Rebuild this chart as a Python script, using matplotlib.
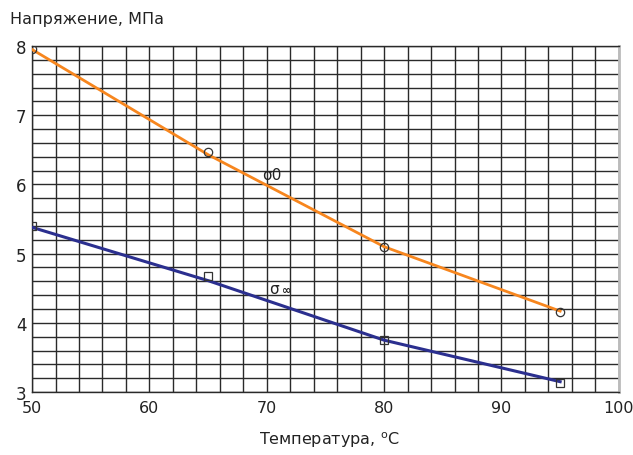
import matplotlib.pyplot as plt
import numpy as np

# данные
temp = [50, 65, 80, 95]
sigma0_pts = [7.95, 6.47, 5.1, 4.15]
sigma0_line = [7.95, 6.43, 5.1, 4.17]
sigmainf_pts = [5.4, 4.68, 3.75, 3.13]
sigmainf_line = [5.38, 4.61, 3.75, 3.15]

fig = plt.figure(figsize=(6.33, 4.56), dpi=100)
ax = fig.add_axes([0.0506, 0.138, 0.927, 0.759])

ax.plot(temp, sigma0_line, color='#f7861e', linewidth=2, zorder=3)
ax.plot(temp, sigmainf_line, color='#2b2f8f', linewidth=2.2, zorder=3)
ax.plot(temp, sigma0_pts, 'o', mfc='none', mec='#333333', ms=6, mew=0.9, zorder=4)
ax.plot(temp, sigmainf_pts, 's', mfc='none', mec='#333333', ms=6, mew=0.9, zorder=4)

ax.set_xlim(50, 100)
ax.set_ylim(3, 8)
ax.set_xticks(np.arange(50, 101, 2), minor=True)
ax.set_yticks(np.arange(3, 8.01, 0.2), minor=True)
ax.set_xticks([50, 60, 70, 80, 90, 100])
ax.set_yticks([3, 4, 5, 6, 7, 8])
ax.grid(True, which='both', color='#2a2a2a', linewidth=1.0)
ax.tick_params(which='both', length=0, labelsize=12, colors='#222222')
ax.tick_params(axis='x', pad=6, labelsize=11.5)
ax.tick_params(axis='y', pad=4)
for s in ax.spines.values():
    s.set_color('#2a2a2a')
    s.set_linewidth(1.0)
ax.spines['right'].set_color('#bbbbbb')
ax.spines['right'].set_linewidth(2)

ax.text(69.6, 6.15, 'σ0', fontsize=11, va='center', ha='left', color='#222222')
ax.text(70.2, 4.49, 'σ', fontsize=11, va='center', ha='left', color='#222222')
ax.text(71.3, 4.47, '∞', fontsize=8, fontweight='bold', va='center', ha='left', color='#222222')

fig.text(0.016, 0.957, 'Напряжение, МПа', fontsize=11.5, ha='left', va='center', color='#222222')
fig.text(0.52, 0.035, 'Температура, $^{\\mathregular{o}}$C', fontsize=11.5, ha='center', va='center', color='#222222')

fig.savefig('out.png', dpi=100)
